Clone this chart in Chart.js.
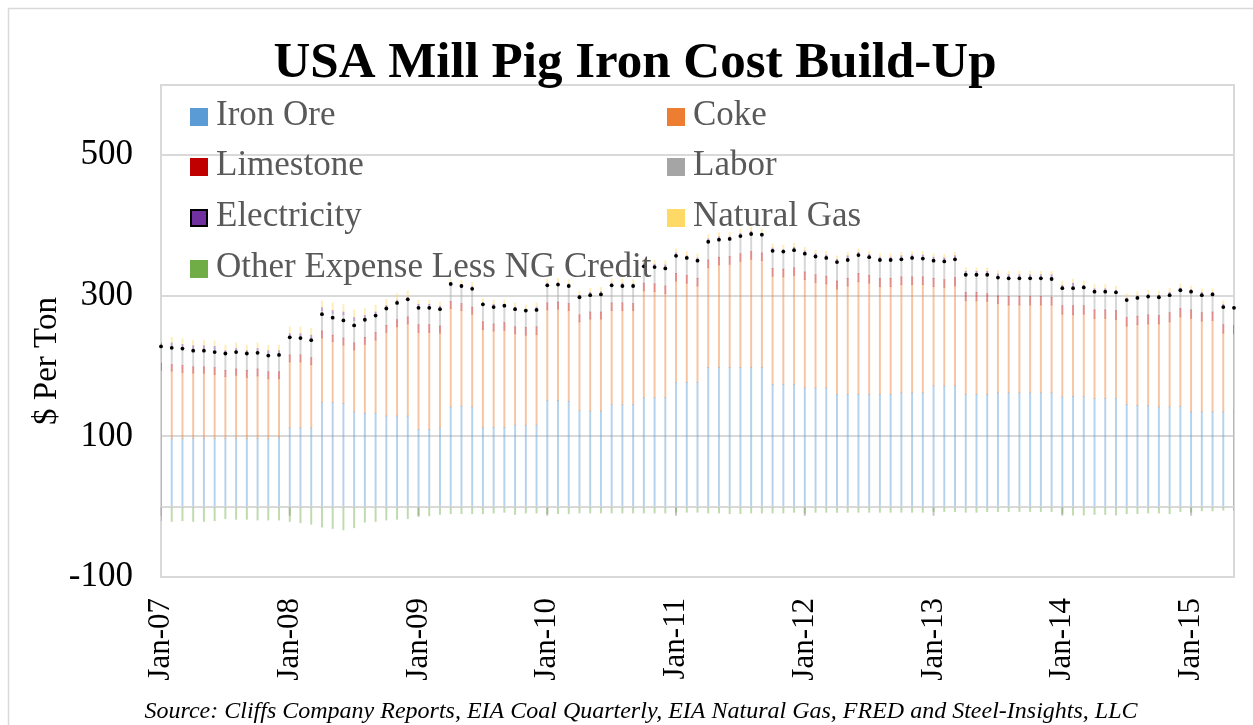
<!DOCTYPE html>
<html>
<head>
<meta charset="utf-8">
<script src="https://cdn.jsdelivr.net/npm/chart.js@4.4.1/dist/chart.umd.min.js"></script>
<style>
  html, body { margin: 0; padding: 0; background: #fff; }
</style>
</head>
<body>
<canvas id="myChart" width="1253" height="725"></canvas>
<script>
// months Jan-07 .. May-15
let years = ['07', '08', '09', '10', '11', '12', '13', '14', '15']
let monthNames = ['Jan', 'Feb', 'Mar', 'Apr', 'May', 'Jun', 'Jul', 'Aug', 'Sep', 'Oct', 'Nov', 'Dec']
let months = []
years.forEach(y => monthNames.forEach(m => months.push(m + '-' + y)))
months = months.slice(0, 101)

let yTickLabels = [-100, 100, 300, 500]

let ironOre = [
  98, 97, 97, 97, 97, 97, 97, 97, 97, 97, 97, 98,
  112, 112, 112, 148, 148, 147, 135, 133, 133, 129, 129, 129,
  110, 110, 112, 142, 143, 142, 112, 113, 113, 116, 116, 116,
  151, 151, 150, 137, 136, 136, 145, 145, 145, 155, 155, 155,
  177, 177, 177, 198, 198, 198, 198, 198, 198, 174, 174, 174,
  169, 169, 169, 160, 160, 160, 160, 160, 160, 162, 162, 162,
  172, 172, 172, 160, 160, 160, 162, 162, 162, 162, 162, 162,
  156, 157, 157, 154, 154, 154, 145, 144, 144, 142, 142, 143,
  135, 135, 135, 135, 135
]
let coke = [
  96, 96, 94, 93, 93, 91, 88, 90, 87, 89, 85, 84,
  94, 94, 90, 92, 87, 83, 88, 98, 104, 119, 127, 131,
  138, 138, 135, 140, 136, 132, 140, 137, 138, 130, 128, 129,
  129, 130, 129, 126, 131, 131, 134, 134, 134, 152, 151, 148,
  144, 141, 137, 142, 146, 147, 151, 154, 152, 154, 153, 155,
  154, 150, 148, 150, 154, 160, 158, 153, 153, 154, 154, 154,
  141, 140, 142, 133, 133, 132, 127, 125, 125, 125, 125, 125,
  118, 116, 117, 114, 114, 112, 112, 115, 116, 118, 121, 127,
  133, 129, 130, 112, 111
]
let limestone = [
  10, 9, 10, 9, 9, 10, 9, 9, 10, 10, 10, 10,
  10, 10, 10, 10, 9, 10, 10, 10, 11, 10, 10, 10,
  11, 11, 10, 10, 10, 10, 11, 10, 11, 10, 11, 11,
  10, 10, 10, 10, 10, 10, 11, 11, 10, 11, 11, 11,
  11, 11, 11, 11, 11, 11, 11, 11, 11, 11, 11, 11,
  11, 11, 11, 11, 11, 12, 11, 12, 12, 11, 11, 11,
  12, 11, 12, 12, 12, 11, 11, 12, 12, 12, 12, 11,
  12, 13, 12, 12, 12, 13, 12, 12, 13, 12, 13, 12,
  12, 12, 12, 12, 12
]
let labor = [
  25, 27, 26, 26, 26, 26, 24, 25, 24, 25, 26, 26,
  26, 26, 28, 29, 31, 33, 32, 27, 25, 24, 24, 24,
  25, 25, 24, 22, 23, 25, 23, 24, 22, 24, 22, 24,
  24, 24, 24, 24, 24, 25, 24, 24, 24, 24, 24, 26,
  25, 24, 25, 26, 25, 24, 25, 25, 24, 25, 24, 25,
  26, 26, 26, 27, 28, 26, 26, 26, 26, 26, 27, 27,
  26, 27, 27, 26, 26, 28, 27, 27, 27, 27, 27, 28,
  25, 28, 25, 26, 26, 25, 24, 25, 25, 25, 25, 25,
  25, 25, 24, 25, 23
]
let electricity = [
  4, 4, 4, 4, 4, 4, 4, 4, 4, 4, 4, 4,
  4, 4, 4, 4, 4, 4, 4, 4, 4, 4, 4, 4,
  4, 4, 4, 4, 4, 4, 4, 4, 4, 4, 4, 4,
  4, 4, 4, 4, 4, 4, 4, 4, 4, 4, 4, 4,
  4, 4, 4, 4, 4, 4, 4, 4, 4, 4, 4, 4,
  4, 4, 4, 4, 4, 4, 4, 4, 4, 4, 4, 4,
  4, 4, 4, 4, 4, 4, 4, 4, 4, 4, 4, 4,
  4, 4, 4, 4, 4, 4, 4, 4, 4, 4, 4, 4,
  4, 4, 4, 4, 4
]
let naturalGas = [
  8, 8, 8, 8, 8, 8, 8, 8, 8, 8, 8, 8,
  10, 10, 10, 10, 11, 11, 11, 10, 10, 9, 9, 9,
  6, 6, 6, 6, 6, 6, 6, 6, 6, 6, 6, 6,
  6, 6, 6, 6, 6, 6, 6, 6, 6, 6, 6, 6,
  6, 6, 6, 6, 6, 6, 6, 6, 6, 6, 6, 6,
  5, 5, 5, 5, 5, 5, 5, 5, 5, 5, 5, 5,
  5, 5, 5, 5, 5, 5, 5, 5, 5, 5, 5, 5,
  6, 6, 6, 6, 6, 6, 6, 6, 6, 6, 6, 6,
  5, 5, 5, 5, 5
]
let otherExpense = [
  -20, -21, -20, -21, -21, -20, -17, -18, -18, -19, -19, -19,
  -21, -23, -25, -29, -31, -33, -30, -22, -21, -19, -18, -17,
  -14, -13, -11, -10, -10, -10, -10, -9, -8, -11, -9, -9,
  -10, -10, -10, -9, -9, -9, -9, -9, -9, -9, -9, -9,
  -8, -8, -8, -9, -9, -10, -10, -9, -9, -9, -9, -8,
  -9, -8, -8, -8, -8, -8, -8, -8, -8, -8, -8, -8,
  -7, -7, -7, -8, -8, -7, -7, -7, -7, -7, -7, -7,
  -10, -12, -12, -11, -11, -12, -10, -10, -9, -9, -10, -7,
  -8, -6, -6, -5, -5
]
let totalCost = [
  228, 226, 225, 222, 222, 220, 218, 220, 218, 219, 215, 216,
  241, 240, 237, 274, 269, 265, 258, 266, 272, 282, 290, 295,
  283, 283, 281, 317, 314, 310, 288, 284, 286, 281, 279, 280,
  315, 316, 314, 298, 301, 302, 315, 314, 314, 342, 341, 339,
  357, 354, 350, 377, 380, 381, 385, 388, 387, 364, 363, 365,
  360, 356, 354, 348, 351, 358, 355, 351, 351, 352, 354, 353,
  350, 349, 352, 330, 330, 330, 326, 325, 325, 325, 325, 324,
  311, 311, 312, 306, 306, 305, 294, 297, 299, 298, 301, 308,
  306, 301, 302, 284, 283
]

let seriesNames = ['Iron Ore', 'Coke', 'Limestone', 'Labor', 'Electricity', 'Natural Gas', 'Other Expense Less NG Credit']
let seriesData = [ironOre, coke, limestone, labor, electricity, naturalGas, otherExpense]
let seriesColors = ['#5B9BD5', '#ED7D31', '#C00000', '#A5A5A5', '#7030A0', '#FFD966', '#70AD47']

function fade(hex, a) {
  let r = parseInt(hex.substr(1, 2), 16)
  let g = parseInt(hex.substr(3, 2), 16)
  let b = parseInt(hex.substr(5, 2), 16)
  return `rgba(${r},${g},${b},${a})`
}

let serif = '"Liberation Serif", "DejaVu Serif", serif'

let datasets = seriesNames.map(function (name, i) {
  return {
    type: 'bar',
    label: name,
    data: seriesData[i],
    backgroundColor: fade(seriesColors[i], 0.45),
    legendColor: seriesColors[i],
    barThickness: 1.3,
    stack: 'cost',
    order: 1
  }
})
datasets.push({
  type: 'line',
  label: 'Total',
  data: totalCost,
  showLine: false,
  pointRadius: 1.9,
  pointBackgroundColor: '#000',
  pointBorderWidth: 0,
  stack: 'total',
  order: 0
})

let decor = {
  id: 'decor',
  beforeDraw(chart) {
    let ctx = chart.ctx
    ctx.save()
    ctx.fillStyle = '#fff'
    ctx.fillRect(0, 0, chart.width, chart.height)
    ctx.strokeStyle = '#d9d9d9'
    ctx.lineWidth = 1.5
    ctx.beginPath()
    ctx.moveTo(8.5, chart.height)
    ctx.lineTo(8.5, 8.5)
    ctx.lineTo(chart.width, 8.5)
    ctx.stroke()
    ctx.restore()
  },
  beforeDatasetsDraw(chart) {
    let ctx = chart.ctx
    let a = chart.chartArea
    let x = chart.scales.x
    let y0 = chart.scales.y.getPixelForValue(0)
    ctx.save()
    ctx.strokeStyle = '#d9d9d9'
    ctx.lineWidth = 2
    ctx.strokeRect(a.left, a.top, a.right - a.left, a.bottom - a.top)
    ctx.strokeStyle = '#c8c8c8'
    ctx.beginPath()
    months.forEach(function (m, i) {
      if (i % 12 === 0) {
        let px = x.getPixelForValue(i)
        ctx.moveTo(px, y0)
        ctx.lineTo(px, y0 + 9)
      }
    })
    ctx.stroke()
    ctx.restore()
  },
  afterDraw(chart) {
    let ctx = chart.ctx
    ctx.save()
    // title
    ctx.fillStyle = '#000'
    ctx.textAlign = 'center'
    ctx.textBaseline = 'alphabetic'
    ctx.font = 'bold 51px ' + serif
    ctx.fillText('USA Mill Pig Iron Cost Build-Up', 635, 77)
    // source
    ctx.font = 'italic 24px ' + serif
    ctx.fillText('Source: Cliffs Company Reports, EIA Coal Quarterly, EIA Natural Gas, FRED and Steel-Insights, LLC', 641, 718)
    // y title
    ctx.save()
    ctx.translate(47, 361)
    ctx.rotate(-Math.PI / 2)
    ctx.textBaseline = 'middle'
    ctx.font = '33px ' + serif
    ctx.fillText('$ Per Ton', 0, 0)
    ctx.restore()
    // legend, two columns inside the plot
    let colX = [190, 667]
    let rowY = [108, 158, 209, 260]
    ctx.textAlign = 'left'
    ctx.font = '35px ' + serif
    chart.data.datasets.forEach(function (ds, i) {
      if (ds.type !== 'bar') return
      let bx = colX[i % 2]
      let by = rowY[Math.floor(i / 2)]
      ctx.fillStyle = ds.legendColor
      ctx.fillRect(bx, by, 18, 18)
      if (ds.label === 'Electricity') {
        ctx.strokeStyle = '#000'
        ctx.lineWidth = 2
        ctx.strokeRect(bx + 1, by + 1, 16, 16)
      }
      ctx.fillStyle = '#595959'
      ctx.fillText(ds.label, bx + 26, by + 17)
    })
    ctx.restore()
  }
}

new Chart('myChart', {
  data: {
    labels: months,
    datasets: datasets
  },
  options: {
    responsive: false,
    animation: false,
    layout: { padding: { top: 85, right: 19, left: 0, bottom: 0 } },
    plugins: {
      legend: { display: false },
      tooltip: { enabled: false }
    },
    scales: {
      x: {
        stacked: true,
        offset: false,
        grid: { display: false, drawTicks: false },
        border: { display: false },
        ticks: {
          autoSkip: false,
          minRotation: 90,
          maxRotation: 90,
          padding: 21,
          color: '#000',
          font: { family: serif, size: 31 },
          callback: function (val, index) {
            return index % 12 === 0 ? this.getLabelForValue(val) : ''
          }
        },
        afterFit: function (scale) {
          scale.height = 148
          scale.paddingLeft = 0
          scale.paddingRight = 0
        }
      },
      y: {
        stacked: true,
        min: -100,
        max: 600,
        border: { display: false },
        grid: {
          drawTicks: false,
          lineWidth: 2,
          color: function (c) {
            let v = c.tick.value
            return (v === 0 || v === 100 || v === 300 || v === 500) ? '#d9d9d9' : 'rgba(0,0,0,0)'
          }
        },
        ticks: {
          stepSize: 100,
          padding: 28,
          color: '#000',
          font: { family: serif, size: 35 },
          callback: function (v) { return yTickLabels.includes(v) ? v : '' }
        },
        afterFit: function (scale) { scale.width = 161 }
      }
    }
  },
  plugins: [decor]
})
</script>
</body>
</html>
